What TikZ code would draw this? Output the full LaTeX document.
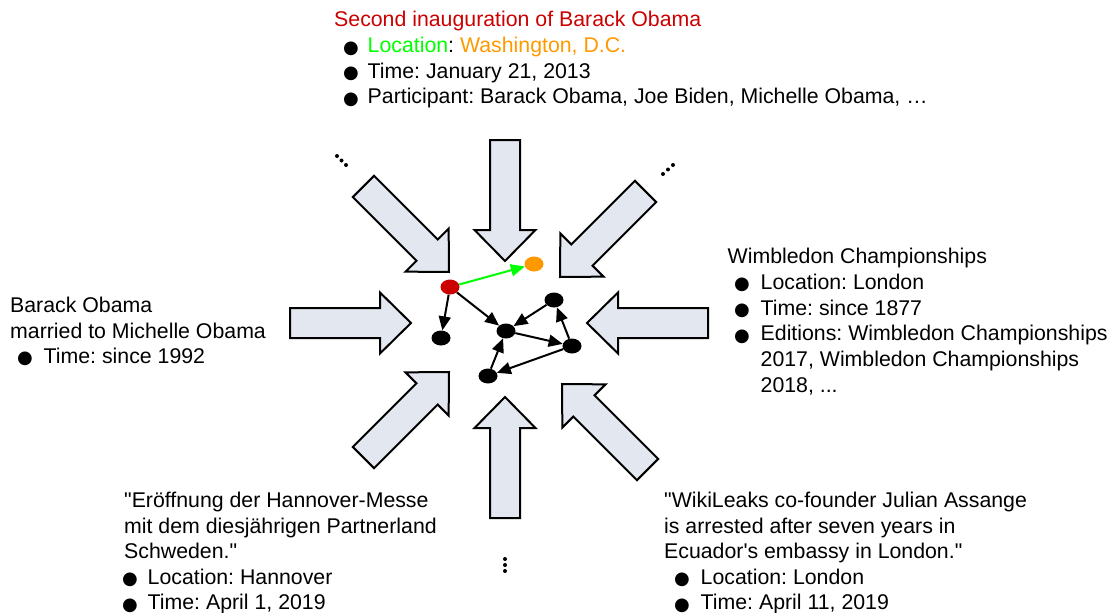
\documentclass[tikz,border=0pt]{standalone}
\usepackage{fontspec}
\setmainfont{Liberation Sans}[Ligatures=TeXOff]
\newfontfamily\bulletfont{DejaVu Sans}
\usetikzlibrary{arrows.meta,shapes.geometric}
\definecolor{headred}{RGB}{204,0,0}
\definecolor{locgreen}{RGB}{0,255,0}
\definecolor{placeorange}{RGB}{255,153,0}
\definecolor{arrowfill}{RGB}{227,231,239}
% block arrow: tip at #1, pointing in direction #2 (degrees)
\newcommand\blockarrow[2]{%
  \draw[bigarrow,shift={#1},rotate=#2] (0,0) -- (-31,30.5) -- (-31,15) -- (-121,15)
    -- (-121,-15) -- (-31,-15) -- (-31,-30.5) -- cycle;}
\frenchspacing
\begin{document}
\begin{tikzpicture}[x=1pt,y=1pt,
  line/.style={anchor=base west,inner sep=0pt,font=\fontsize{21.3}{25.8}\selectfont},
  bullet/.style={anchor=base,inner sep=0pt,font=\bulletfont\fontsize{18}{20}\selectfont},
  bigarrow/.style={draw=black,line width=2pt,fill=arrowfill,miter limit=10},
  vertex/.style={ellipse,minimum width=19pt,minimum height=15pt,inner sep=0pt,fill=black},
  edge/.style={line width=2pt,-{Triangle[length=14pt,width=12pt]}},
]
\useasboundingbox (0,0) rectangle (1112,-613);

% eight block arrows converging on the graph
\blockarrow{(505,-261)}{-90}
\blockarrow{(505,-397)}{90}
\blockarrow{(411,-323)}{0}
\blockarrow{(587,-323)}{180}
\blockarrow{(449,-272)}{-45}
\blockarrow{(560,-277)}{-135}
\blockarrow{(449,-372)}{45}
\blockarrow{(562,-384)}{135}

% ellipsis marks between the arrows
\fill (337,-156) circle (2) (341.5,-160.5) circle (2) (346,-165) circle (2);
\fill (663,-174) circle (2) (668,-169.5) circle (2) (673,-165) circle (2);
\fill (505,-559) circle (2) (505,-565) circle (2) (505,-571) circle (2);

% central graph
\node[vertex,fill=headred] (ev) at (450,-287) {};
\node[vertex,fill=placeorange] (loc) at (534,-264) {};
\node[vertex] (a) at (441,-338) {};
\node[vertex] (b) at (506,-331) {};
\node[vertex] (c) at (554,-300) {};
\node[vertex] (d) at (572,-346) {};
\node[vertex] (e) at (488,-376) {};
\draw[edge,draw=locgreen] (ev) -- (loc);
\draw[edge] (ev) -- (a);
\draw[edge] (ev) -- (b);
\draw[edge] (c) -- (b);
\draw[edge] (b) -- (d);
\draw[edge] (d) -- (c);
\draw[edge] (d) -- (e);
\draw[edge] (e) -- (b);

% top: the event
\node[line,text=headred] (t0) at (334,-27) {Second inauguration of Barack Obama};
\node[bullet] (tb1) at (351,-53) {●};
\node[line] (t1) at (367.5,-52.5) {\textcolor{locgreen}{Location}: \textcolor{placeorange}{Washington, D.C.}};
\node[bullet] (tb2) at (351,-78.5) {●};
\node[line] (t2) at (367.5,-78) {Time: January 21, 2013};
\node[bullet] (tb3) at (351,-104) {●};
\node[line] (t3) at (367.5,-103.5) {Participant: Barack Obama, Joe Biden, Michelle Obama, …};

% left: relation
\node[line] (l0) at (10,-312) {Barack Obama};
\node[line] (l1) at (10,-338) {married to Michelle Obama};
\node[bullet] (lb2) at (25,-363.5) {●};
\node[line] (l2) at (43.5,-363) {Time: since 1992};

% right: recurring event
\node[line] (r0) at (727.5,-263.5) {Wimbledon Championships};
\node[bullet] (rb1) at (742,-289.5) {●};
\node[line] (r1) at (760.5,-289) {Location: London};
\node[bullet] (rb2) at (742,-315.5) {●};
\node[line] (r2) at (760.5,-315) {Time: since 1877};
\node[bullet] (rb3) at (742,-341) {●};
\node[line] (r3) at (760.5,-340.5) {Editions: Wimbledon Championships};
\node[line] (r4) at (760.5,-366) {2017, Wimbledon Championships};
\node[line] (r5) at (760.5,-392) {2018, ...};

% bottom left: news event
\node[line] (bl0) at (124,-507) {"Eröffnung der Hannover-Messe};
\node[line] (bl1) at (124,-533) {mit dem diesjährigen Partnerland};
\node[line] (bl2) at (124,-558) {Schweden."};
\node[bullet] (blb3) at (130,-584.5) {●};
\node[line] (bl3) at (147.5,-584) {Location: Hannover};
\node[bullet] (blb4) at (130,-610) {●};
\node[line] (bl4) at (147.5,-609.5) {Time: April 1, 2019};

% bottom right: news event
\node[line] (br0) at (664,-507) {"WikiLeaks co-founder Julian Assange};
\node[line] (br1) at (664,-533) {is arrested after seven years in};
\node[line] (br2) at (664,-558) {Ecuador's embassy in London."};
\node[bullet] (brb3) at (682,-584.5) {●};
\node[line] (br3) at (700.5,-584) {Location: London};
\node[bullet] (brb4) at (682,-610) {●};
\node[line] (br4) at (700.5,-609.5) {Time: April 11, 2019};
\end{tikzpicture}
\end{document}
